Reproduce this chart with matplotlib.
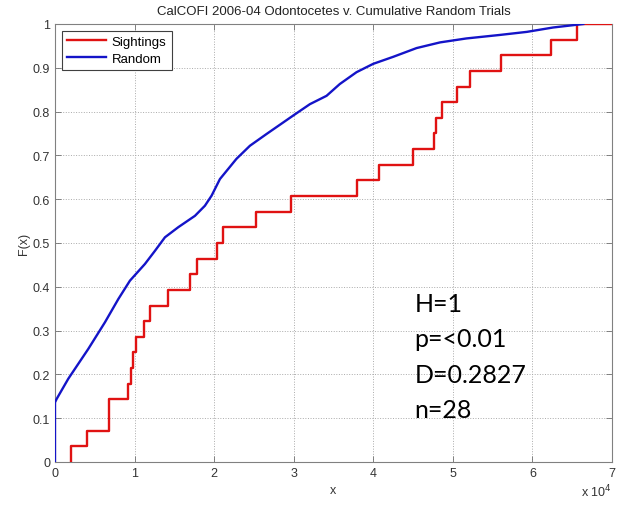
#!/usr/bin/env python3
"""
Empirical CDF of sighting distances vs. cumulative random trials
(CalCOFI 2006-04, odontocetes), with the two-sample KS result.
"""

import numpy as np
import matplotlib.pyplot as plt
import matplotlib as mpl

mpl.rcParams.update({
    'font.family': ['Liberation Sans', 'DejaVu Sans'],
    'font.size': 9,
    'axes.linewidth': 0.8,
    'xtick.direction': 'in',
    'ytick.direction': 'in',
    'xtick.top': True,
    'ytick.right': True,
})

# ---------------------------------------------------------------------------
# Data
# ---------------------------------------------------------------------------
# sorted sighting distances (n = 28)
sightings = [2000, 4000, 6800, 6800, 9200, 9550, 9840, 10180, 11200, 12000,
             14200, 17000, 17900, 20350, 21100, 25300, 29600, 38000, 40700,
             45000, 47600, 47900, 48700, 50500, 52100, 56000, 62400, 65600]

# cumulative curve of the random trials
random_x = [0, 0, 210, 1670, 4180, 6280, 7960, 9420, 11300, 12560, 13820,
            15490, 17590, 18840, 19680, 20730, 22800, 24500, 26600, 29940,
            32040, 34130, 35800, 37900, 39990, 42500, 45440, 48400, 51700,
            55900, 59300, 62600, 66400]
random_f = [0, 0.136, 0.144, 0.19, 0.258, 0.319, 0.372, 0.414, 0.452, 0.482,
            0.513, 0.536, 0.562, 0.585, 0.608, 0.646, 0.692, 0.722, 0.749,
            0.791, 0.817, 0.836, 0.863, 0.89, 0.909, 0.925, 0.945, 0.958,
            0.967, 0.975, 0.982, 0.992, 1.0]

ks_lines = ['H=1', 'p=<0.01', 'D=0.2827', 'n=28']

# ---------------------------------------------------------------------------
# Figure
# ---------------------------------------------------------------------------
fig = plt.figure(figsize=(6.27, 5.06), dpi=100)
ax = fig.add_axes([0.0877, 0.085, 0.8883, 0.8656])

xs = np.sort(np.asarray(sightings, dtype=float))
n = len(xs)
step_x = np.concatenate([[xs[0]], xs, [xs[-1] * 1.2]])
step_y = np.concatenate([[0.0], np.arange(1, n + 1) / n, [1.0]])
ax.step(step_x, step_y, where='post', color='#e01212', lw=1.7,
        label='Sightings', zorder=3)
ax.plot(random_x, random_f, color='#1414c8', lw=1.7, label='Random', zorder=3)

ax.set_xlim(0, 70000)
ax.set_ylim(0, 1)
ax.set_xticks(np.arange(0, 70001, 10000))
ax.set_xticklabels([str(i) for i in range(8)])
ax.set_yticks(np.arange(0, 1.01, 0.1))
ax.set_yticklabels(['0'] + ['%.1f' % v for v in np.arange(0.1, 0.95, 0.1)] + ['1'])
ax.tick_params(length=4, width=0.6, colors='#707070', labelcolor='#333333',
               labelsize=9)
for sp in ax.spines.values():
    sp.set_color('#808080')
ax.grid(True, ls=':', color='#aaaaaa', lw=0.7)

ax.set_xlabel('x', fontsize=9, color='#333333', labelpad=4)
ax.set_ylabel('F(x)', fontsize=9, color='#333333', labelpad=2)
ax.set_title('CalCOFI 2006-04 Odontocetes v. Cumulative Random Trials',
             fontsize=9.5, color='#222222', pad=7)
ax.text(1.0, -0.066, r'x 10$^4$', transform=ax.transAxes, ha='right',
        va='center', fontsize=9, color='#333333')

leg = ax.legend(loc='upper left', frameon=True, fancybox=False,
                edgecolor='#404040', framealpha=1.0, fontsize=9.5,
                handlelength=3.0, borderaxespad=0.5, borderpad=0.4,
                labelspacing=0.35, handletextpad=0.4)
leg.get_frame().set_linewidth(0.8)

for i, s in enumerate(ks_lines):
    ax.text(45200, 0.345 - i * 0.081, s, fontsize=18,
            family=['Lato', 'DejaVu Sans'], color='black', va='baseline')

fig.savefig('out.png', dpi=100, facecolor='white')
